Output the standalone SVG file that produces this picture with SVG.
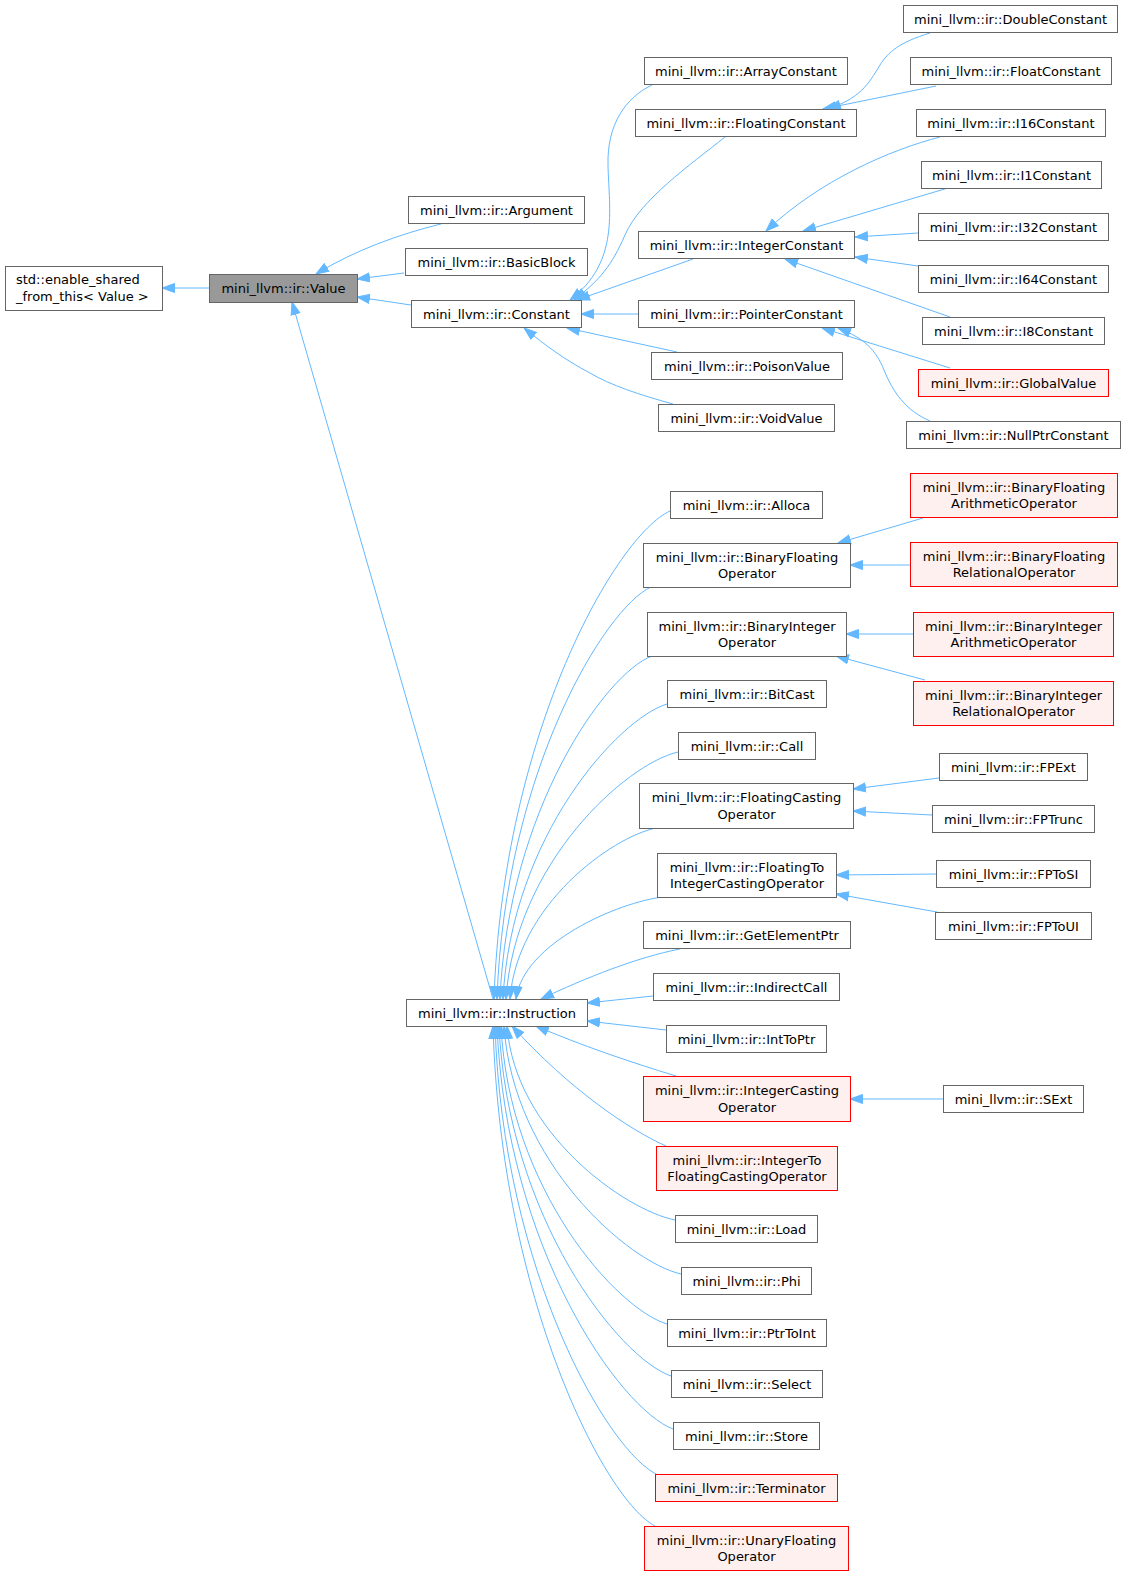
<svg xmlns="http://www.w3.org/2000/svg" width="1126" height="1576" viewBox="0 0 1126 1576">
<style>
.n rect{fill:#ffffff;stroke:#666666;stroke-width:1}
.r rect{fill:#fff0f0;stroke:#ff0000;stroke-width:1}
.v rect{fill:#999999;stroke:#666666;stroke-width:1}
text{font-family:"DejaVu Sans","Liberation Sans",sans-serif;font-size:13px;text-anchor:middle;fill:#000}
.e path{fill:none;stroke:#63b8ff;stroke-width:1;marker-end:url(#a)}
</style>
<defs>
<marker id="a" markerUnits="userSpaceOnUse" markerWidth="14" markerHeight="12" viewBox="0 0 14 12" refX="13" refY="5.5" orient="auto">
<path d="M0.5,1 L13,5.5 L0.5,10 z" fill="#63b8ff" stroke="#63b8ff" stroke-width="1"/>
</marker>
</defs>
<rect width="1126" height="1576" fill="#ffffff"/>
<g id="edges" class="e">
<path d="M209,288 L162,288"/>
<path d="M441,224 C400,234 355,250 316,274"/>
<path d="M404,273 L357,279"/>
<path d="M411,305 L357,297"/>
<path d="M493,999 L292,302"/>
<path d="M652,85 C625,98 607,125 608,165 C609,210 620,262 570,300"/>
<path d="M725,137 C690,165 640,200 625,235 C612,265 600,280 574,300"/>
<path d="M693,259 L577,300"/>
<path d="M638,314 L581,314"/>
<path d="M677,352 L567,328"/>
<path d="M673,404 C640,395 610,385 590,373 C565,360 545,345 524,328"/>
<path d="M930,33 C900,42 888,52 880,65 C868,85 860,98 828,109"/>
<path d="M936,86 L823,109"/>
<path d="M940,137 C890,150 820,180 766,231"/>
<path d="M948,188 L803,231"/>
<path d="M918,233 L855,237"/>
<path d="M918,266 L855,257"/>
<path d="M950,317 L785,259"/>
<path d="M950,368 L822,328"/>
<path d="M930,421 C905,410 893,392 884,370 C876,350 864,338 838,328"/>
<path d="M923,518 L838,543"/>
<path d="M910,565 L850,565"/>
<path d="M913,634 L846,634"/>
<path d="M925,680 L836,656"/>
<path d="M939,778 L853,789"/>
<path d="M932,815 L853,811"/>
<path d="M936,874 L836,875"/>
<path d="M937,912 L836,894"/>
<path d="M943,1099 L850,1099"/>
<path d="M670,511 C617,535 503,731 494,999"/>
<path d="M651,587 C605,608 505,772 497,999"/>
<path d="M652,656 C606,673 508,810 500,999"/>
<path d="M667,704 C618,719 511,837 503,999"/>
<path d="M678,752 C626,764 515,863 506,999"/>
<path d="M656,828 C612,837 517,905 510,999"/>
<path d="M663,897 C619,902 523,943 516,999"/>
<path d="M680,949 C638,957 585,978 541,999"/>
<path d="M653,996 L587,1003"/>
<path d="M666,1030 L587,1021"/>
<path d="M676,1076 C630,1062 580,1045 536,1026"/>
<path d="M666,1146 C630,1130 570,1090 512,1026"/>
<path d="M675,1220 C625,1210 515,1133 507,1026"/>
<path d="M681,1274 C628,1262 513,1162 504,1026"/>
<path d="M667,1324 C617,1309 509,1190 501,1026"/>
<path d="M671,1376 C619,1358 508,1218 499,1026"/>
<path d="M673,1429 C620,1409 506,1248 497,1026"/>
<path d="M658,1475 C609,1453 503,1273 495,1026"/>
<path d="M655,1526 C606,1501 501,1301 493,1026"/>
</g>
<g id="enable_shared" class="n"><rect x="5.5" y="266.5" width="157" height="44"/><text x="16" y="284" style="text-anchor:start">std::enable_shared</text><text x="16" y="300.5" style="text-anchor:start">_from_this&lt; Value &gt;</text></g>
<g id="Value" class="v"><rect x="209.5" y="274.5" width="148" height="28"/><text x="283.5" y="293">mini_llvm::ir::Value</text></g>
<g id="Argument" class="n"><rect x="408.5" y="196.5" width="176" height="27"/><text x="496.5" y="214.5">mini_llvm::ir::Argument</text></g>
<g id="BasicBlock" class="n"><rect x="405.5" y="248.5" width="182" height="27"/><text x="496.5" y="266.5">mini_llvm::ir::BasicBlock</text></g>
<g id="Constant" class="n"><rect x="411.5" y="300.5" width="170" height="27"/><text x="496.5" y="318.5">mini_llvm::ir::Constant</text></g>
<g id="Instruction" class="n"><rect x="406.5" y="999.5" width="181" height="27"/><text x="497" y="1017.5">mini_llvm::ir::Instruction</text></g>
<g id="ArrayConstant" class="n"><rect x="644.5" y="57.5" width="203" height="27"/><text x="746" y="75.5">mini_llvm::ir::ArrayConstant</text></g>
<g id="FloatingConstant" class="n"><rect x="635.5" y="109.5" width="221" height="27"/><text x="746" y="127.5">mini_llvm::ir::FloatingConstant</text></g>
<g id="IntegerConstant" class="n"><rect x="638.5" y="231.5" width="216" height="27"/><text x="746.5" y="249.5">mini_llvm::ir::IntegerConstant</text></g>
<g id="PointerConstant" class="n"><rect x="638.5" y="300.5" width="216" height="27"/><text x="746.5" y="318.5">mini_llvm::ir::PointerConstant</text></g>
<g id="PoisonValue" class="n"><rect x="651.5" y="352.5" width="191" height="27"/><text x="747" y="370.5">mini_llvm::ir::PoisonValue</text></g>
<g id="VoidValue" class="n"><rect x="658.5" y="404.5" width="176" height="27"/><text x="746.5" y="422.5">mini_llvm::ir::VoidValue</text></g>
<g id="DoubleConstant" class="n"><rect x="903.5" y="5.5" width="214" height="27"/><text x="1010.5" y="23.5">mini_llvm::ir::DoubleConstant</text></g>
<g id="FloatConstant" class="n"><rect x="910.5" y="57.5" width="201" height="27"/><text x="1011" y="75.5">mini_llvm::ir::FloatConstant</text></g>
<g id="I16Constant" class="n"><rect x="916.5" y="109.5" width="189" height="27"/><text x="1011" y="127.5">mini_llvm::ir::I16Constant</text></g>
<g id="I1Constant" class="n"><rect x="921.5" y="161.5" width="180" height="27"/><text x="1011.5" y="179.5">mini_llvm::ir::I1Constant</text></g>
<g id="I32Constant" class="n"><rect x="918.5" y="213.5" width="190" height="27"/><text x="1013.5" y="231.5">mini_llvm::ir::I32Constant</text></g>
<g id="I64Constant" class="n"><rect x="918.5" y="265.5" width="190" height="27"/><text x="1013.5" y="283.5">mini_llvm::ir::I64Constant</text></g>
<g id="I8Constant" class="n"><rect x="922.5" y="317.5" width="182" height="27"/><text x="1013.5" y="335.5">mini_llvm::ir::I8Constant</text></g>
<g id="GlobalValue" class="r"><rect x="918.5" y="369.5" width="190" height="27"/><text x="1013.5" y="387.5">mini_llvm::ir::GlobalValue</text></g>
<g id="NullPtrConstant" class="n"><rect x="906.5" y="421.5" width="214" height="27"/><text x="1013.5" y="439.5">mini_llvm::ir::NullPtrConstant</text></g>
<g id="Alloca" class="n"><rect x="670.5" y="491.5" width="152" height="27"/><text x="746.5" y="509.5">mini_llvm::ir::Alloca</text></g>
<g id="BinaryFloatingOperator" class="n"><rect x="643.5" y="543.5" width="207" height="44"/><text x="747" y="562">mini_llvm::ir::BinaryFloating</text><text x="747" y="578">Operator</text></g>
<g id="BinaryFloatingArithmeticOperator" class="r"><rect x="910.5" y="473.5" width="207" height="44"/><text x="1014" y="492">mini_llvm::ir::BinaryFloating</text><text x="1014" y="508">ArithmeticOperator</text></g>
<g id="BinaryFloatingRelationalOperator" class="r"><rect x="910.5" y="542.5" width="207" height="44"/><text x="1014" y="561">mini_llvm::ir::BinaryFloating</text><text x="1014" y="577">RelationalOperator</text></g>
<g id="BinaryIntegerOperator" class="n"><rect x="647.5" y="612.5" width="199" height="44"/><text x="747" y="631">mini_llvm::ir::BinaryInteger</text><text x="747" y="647">Operator</text></g>
<g id="BinaryIntegerArithmeticOperator" class="r"><rect x="913.5" y="612.5" width="200" height="44"/><text x="1013.5" y="631">mini_llvm::ir::BinaryInteger</text><text x="1013.5" y="647">ArithmeticOperator</text></g>
<g id="BinaryIntegerRelationalOperator" class="r"><rect x="913.5" y="681.5" width="200" height="44"/><text x="1013.5" y="700">mini_llvm::ir::BinaryInteger</text><text x="1013.5" y="716">RelationalOperator</text></g>
<g id="BitCast" class="n"><rect x="667.5" y="680.5" width="159" height="27"/><text x="747" y="698.5">mini_llvm::ir::BitCast</text></g>
<g id="Call" class="n"><rect x="678.5" y="732.5" width="137" height="27"/><text x="747" y="750.5">mini_llvm::ir::Call</text></g>
<g id="FloatingCastingOperator" class="n"><rect x="639.5" y="783.5" width="214" height="45"/><text x="746.5" y="802">mini_llvm::ir::FloatingCasting</text><text x="746.5" y="818.5">Operator</text></g>
<g id="FPExt" class="n"><rect x="939.5" y="753.5" width="148" height="27"/><text x="1013.5" y="771.5">mini_llvm::ir::FPExt</text></g>
<g id="FPTrunc" class="n"><rect x="932.5" y="805.5" width="162" height="27"/><text x="1013.5" y="823.5">mini_llvm::ir::FPTrunc</text></g>
<g id="FloatingToIntegerCastingOperator" class="n"><rect x="657.5" y="853.5" width="179" height="44"/><text x="747" y="872">mini_llvm::ir::FloatingTo</text><text x="747" y="888">IntegerCastingOperator</text></g>
<g id="FPToSI" class="n"><rect x="936.5" y="860.5" width="154" height="27"/><text x="1013.5" y="878.5">mini_llvm::ir::FPToSI</text></g>
<g id="FPToUI" class="n"><rect x="935.5" y="912.5" width="156" height="27"/><text x="1013.5" y="930.5">mini_llvm::ir::FPToUI</text></g>
<g id="GetElementPtr" class="n"><rect x="643.5" y="921.5" width="207" height="27"/><text x="747" y="939.5">mini_llvm::ir::GetElementPtr</text></g>
<g id="IndirectCall" class="n"><rect x="653.5" y="973.5" width="186" height="27"/><text x="746.5" y="991.5">mini_llvm::ir::IndirectCall</text></g>
<g id="IntToPtr" class="n"><rect x="666.5" y="1025.5" width="160" height="27"/><text x="746.5" y="1043.5">mini_llvm::ir::IntToPtr</text></g>
<g id="IntegerCastingOperator" class="r"><rect x="643.5" y="1076.5" width="207" height="45"/><text x="747" y="1095">mini_llvm::ir::IntegerCasting</text><text x="747" y="1111.5">Operator</text></g>
<g id="SExt" class="n"><rect x="943.5" y="1085.5" width="140" height="27"/><text x="1013.5" y="1103.5">mini_llvm::ir::SExt</text></g>
<g id="IntegerToFloatingCastingOperator" class="r"><rect x="656.5" y="1146.5" width="181" height="44"/><text x="747" y="1165">mini_llvm::ir::IntegerTo</text><text x="747" y="1181">FloatingCastingOperator</text></g>
<g id="Load" class="n"><rect x="675.5" y="1215.5" width="142" height="27"/><text x="746.5" y="1233.5">mini_llvm::ir::Load</text></g>
<g id="Phi" class="n"><rect x="681.5" y="1267.5" width="130" height="27"/><text x="746.5" y="1285.5">mini_llvm::ir::Phi</text></g>
<g id="PtrToInt" class="n"><rect x="667.5" y="1319.5" width="159" height="27"/><text x="747" y="1337.5">mini_llvm::ir::PtrToInt</text></g>
<g id="Select" class="n"><rect x="671.5" y="1370.5" width="151" height="27"/><text x="747" y="1388.5">mini_llvm::ir::Select</text></g>
<g id="Store" class="n"><rect x="673.5" y="1422.5" width="146" height="27"/><text x="746.5" y="1440.5">mini_llvm::ir::Store</text></g>
<g id="Terminator" class="r"><rect x="655.5" y="1474.5" width="182" height="27"/><text x="746.5" y="1492.5">mini_llvm::ir::Terminator</text></g>
<g id="UnaryFloatingOperator" class="r"><rect x="644.5" y="1526.5" width="204" height="44"/><text x="746.5" y="1545">mini_llvm::ir::UnaryFloating</text><text x="746.5" y="1561">Operator</text></g>
</svg>
